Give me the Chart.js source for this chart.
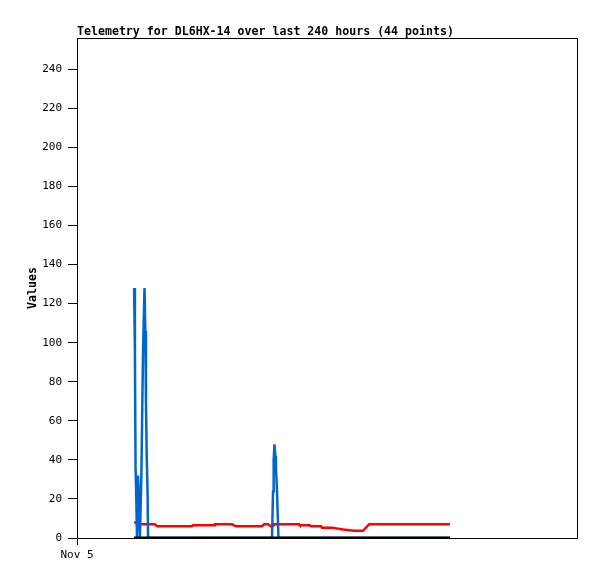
<!DOCTYPE html>
<html>
<head>
<meta charset="utf-8">
<script src="https://cdn.jsdelivr.net/npm/chart.js@4/dist/chart.umd.min.js"></script>
<style>
  html, body { margin: 0; padding: 0; background: #fff; }
  #wrap { width: 597px; height: 579px; }
</style>
</head>
<body>
<div id="wrap"><canvas id="c" width="597" height="579"></canvas></div>
<script>
// hours since Nov 5 00:00
var hours = [27.4, 27.8, 28.1, 28.4, 28.8, 29.3, 29.8, 30.2, 30.9, 31.7, 32.4, 32.8, 33.1, 33.5, 33.9, 34.1,
  37.4, 38.4, 55.2, 55.7, 65.8, 66.2, 74.4, 76.3, 88.8, 89.8, 91.7,
  93.6, 94.1, 94.4, 94.8, 95.2, 95.5, 96.0, 96.7,
  106.6, 107.0, 111.8, 112.3, 117.1, 117.6, 122.4, 125.3, 127.7, 133.0, 137.3, 140.2, 179.0];
var blueVals = [128, 96, 36, 24, 0, 32, 18, 0, 32, 96, 128, 106, 69, 40, 22, 0,
  0, 0, 0, 0, 0, 0, 0, 0, 0, 0, 0,
  0, 24, 40, 48, 42, 36, 24, 0,
  0, 0, 0, 0, 0, 0, 0, 0, 0, 0, 0, 0, 0];
var redVals = [8, 8, 8, 7.5, 7, 7, 7, 7, 7, 7, 7, 7, 7, 7, 7, 7,
  7, 6, 6, 6.5, 6.5, 7, 7, 6, 6, 7, 7,
  5.5, 6.5, 7, 7, 7, 7, 7, 7,
  7, 6.5, 6.5, 6, 6, 5.3, 5.3, 4.8, 4.3, 3.7, 3.7, 7, 7];
var blackVals = hours.map(function() { return 0; });
var yTicks = [0, 20, 40, 60, 80, 100, 120, 140, 160, 180, 200, 220, 240];
var xTickLabels = ['Nov 5'];

function pts(vals) {
  return vals.map(function(v, i) { return { x: hours[i], y: v }; });
}

var mono = '"DejaVu Sans Mono", "Liberation Mono", monospace';

var framePlugin = {
  id: 'frame',
  afterDraw: function(chart) {
    var ctx = chart.ctx, a = chart.chartArea;
    ctx.save();
    ctx.strokeStyle = '#000';
    ctx.lineWidth = 1;
    ctx.beginPath();
    ctx.moveTo(a.left, a.top + 0.5);
    ctx.lineTo(a.right + 0.5, a.top + 0.5);
    ctx.lineTo(a.right + 0.5, a.bottom);
    ctx.stroke();
    ctx.fillStyle = '#000';
    ctx.font = 'bold 11.6px ' + mono;
    ctx.textBaseline = 'alphabetic';
    ctx.textAlign = 'left';
    ctx.fillText('Telemetry for DL6HX-14 over last 240 hours (44 points)', a.left, 35);
    ctx.translate(33, (a.top + a.bottom) / 2);
    ctx.rotate(-Math.PI / 2);
    ctx.textAlign = 'center';
    ctx.textBaseline = 'middle';
    ctx.font = 'bold 11.6px ' + mono;
    ctx.fillText('Values', 0, 0);
    ctx.restore();
  }
};

new Chart(document.getElementById('c'), {
  type: 'line',
  data: {
    datasets: [
      { data: pts(blackVals), borderColor: '#000000', borderWidth: 3, pointRadius: 0, tension: 0, order: 1 },
      { data: pts(blueVals), borderColor: '#0066cc', borderWidth: 2.5, pointRadius: 0, tension: 0, order: 2 },
      { data: pts(redVals), borderColor: '#ff0000', borderWidth: 2.5, pointRadius: 0, tension: 0, order: 3 }
    ]
  },
  options: {
    responsive: false,
    animation: false,
    layout: { padding: { top: 38, right: 20, left: 0, bottom: 0 } },
    plugins: { legend: { display: false }, tooltip: { enabled: false } },
    scales: {
      x: {
        type: 'linear',
        min: 0,
        max: 240,
        afterBuildTicks: function(s) { s.ticks = [{ value: 0 }]; },
        afterFit: function(s) { s.height = 41; },
        ticks: {
          color: '#000',
          font: { family: mono, size: 11 },
          maxRotation: 0,
          padding: 4,
          callback: function(v, i) { return xTickLabels[i]; }
        },
        grid: { drawOnChartArea: false, tickLength: 7, color: '#000' },
        border: { color: '#000', width: 1 }
      },
      y: {
        min: 0,
        max: 256,
        afterBuildTicks: function(s) { s.ticks = yTicks.map(function(v) { return { value: v }; }); },
        afterFit: function(s) { s.width = 77; },
        ticks: { color: '#000', font: { family: mono, size: 11 }, padding: 6 },
        grid: { drawOnChartArea: false, tickLength: 9, color: '#000' },
        border: { color: '#000', width: 1 }
      }
    }
  },
  plugins: [framePlugin]
});
</script>
</body>
</html>
